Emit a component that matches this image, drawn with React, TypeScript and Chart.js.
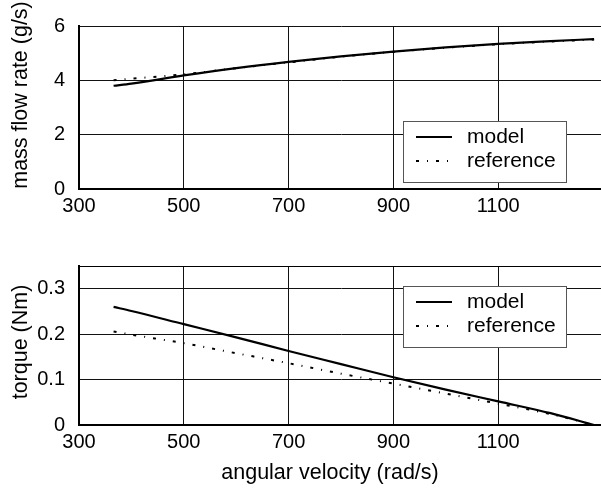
import React, { useEffect, useRef } from "react";
import { Chart, registerables } from "chart.js";
Chart.register(...registerables);

const speed = [366, 400, 500, 600, 700, 800, 900, 1000, 1100, 1200, 1283];
const massModel = [3.8, 3.88, 4.18, 4.45, 4.68, 4.88, 5.06, 5.21, 5.34, 5.44, 5.52];
const massReference = [4.0, 4.06, 4.22, 4.45, 4.66, 4.87, 5.05, 5.2, 5.33, 5.43, 5.5];
const torqueModel = [0.26, 0.251, 0.222, 0.193, 0.163, 0.134, 0.105, 0.078, 0.052, 0.026, 0.0];
const torqueReference = [0.206, 0.199, 0.18, 0.158, 0.136, 0.113, 0.091, 0.069, 0.047, 0.024, 0.0];
const xTicks = [300, 500, 700, 900, 1100];
const massTicks = [0, 2, 4, 6];
const torqueTicks = [0, 0.1, 0.2, 0.3];
const seriesNames = ["model", "reference"];
const massTitle = "mass flow rate (g/s)";
const torqueTitle = "torque (Nm)";
const xTitle = "angular velocity (rad/s)";

const FONT = '"Liberation Sans", Arial, Helvetica, sans-serif';

const boxLegend = {
  id: "boxLegend",
  afterDatasetsDraw(chart: any, _a: any, opts: any) {
    const { ctx, chartArea } = chart;
    const x = Math.round(chartArea.left + opts.dx);
    const y = Math.round(chartArea.top + opts.dy);
    const w = 163;
    const h = 61;
    ctx.save();
    ctx.fillStyle = "#fff";
    ctx.fillRect(x, y, w, h);
    ctx.strokeStyle = "#555";
    ctx.lineWidth = 1;
    ctx.setLineDash([]);
    ctx.strokeRect(x + 0.5, y + 0.5, w, h);
    chart.data.datasets.forEach((ds: any, i: number) => {
      const cy = y + 16 + i * 24;
      ctx.beginPath();
      ctx.setLineDash(ds.borderDash || []);
      ctx.lineWidth = ds.borderWidth;
      ctx.strokeStyle = ds.borderColor;
      ctx.moveTo(x + 13, cy);
      ctx.lineTo(x + 49, cy);
      ctx.stroke();
      ctx.setLineDash([]);
      ctx.fillStyle = "#000";
      ctx.font = `21px ${FONT}`;
      ctx.textBaseline = "middle";
      ctx.textAlign = "left";
      ctx.fillText(ds.label, x + 64, cy);
    });
    ctx.restore();
  },
};

const extras = {
  id: "extras",
  afterDraw(chart: any, _a: any, opts: any) {
    const { ctx, chartArea } = chart;
    ctx.save();
    if (opts.topBorder) {
      ctx.strokeStyle = "#000";
      ctx.lineWidth = 1;
      ctx.beginPath();
      ctx.moveTo(chartArea.left, Math.round(chartArea.top) + 0.5);
      ctx.lineTo(chartArea.right, Math.round(chartArea.top) + 0.5);
      ctx.stroke();
    }
    ctx.fillStyle = "#000";
    ctx.font = `21.5px ${FONT}`;
    ctx.textAlign = "center";
    ctx.textBaseline = "middle";
    if (opts.xTitle) {
      ctx.fillText(opts.xTitle, opts.xTitleX, opts.xTitleY);
    }
    if (opts.yTitle) {
      ctx.save();
      ctx.translate(21, opts.yTitleY);
      ctx.rotate(-Math.PI / 2);
      ctx.fillText(opts.yTitle, 0, 0);
      ctx.restore();
    }
    ctx.restore();
  },
};

function makeConfig(p: {
  yTitle: string;
  yTitleY: number;
  yMax: number;
  yTicks: number[];
  model: number[];
  reference: number[];
  padTop: number;
  xHeight: number;
  legendDy: number;
  topBorder: boolean;
  xTitle?: string;
}): any {
  return {
    type: "line",
    data: {
      datasets: [
        {
          label: seriesNames[0],
          data: speed.map((x, i) => ({ x, y: p.model[i] })),
          borderColor: "#000",
          borderWidth: 2.2,
          pointRadius: 0,
          cubicInterpolationMode: "monotone",
        },
        {
          label: seriesNames[1],
          data: speed.map((x, i) => ({ x, y: p.reference[i] })),
          borderColor: "#000",
          borderWidth: 2,
          borderDash: [3, 8, 1, 8],
          pointRadius: 0,
          cubicInterpolationMode: "monotone",
        },
      ],
    },
    options: {
      animation: false,
      responsive: false,
      devicePixelRatio: 1,
      layout: { padding: { top: p.padTop, left: 0, right: 1, bottom: 0 } },
      plugins: {
        legend: { display: false },
        tooltip: { enabled: false },
        boxLegend: { dx: 324, dy: p.legendDy },
        extras: {
          topBorder: p.topBorder,
          xTitle: p.xTitle,
          xTitleX: 330,
          xTitleY: 233,
          yTitle: p.yTitle,
          yTitleY: p.yTitleY,
        },
      },
      scales: {
        x: {
          type: "linear",
          min: 300,
          max: 1300,
          afterBuildTicks: (s: any) => {
            s.ticks = xTicks.map((v) => ({ value: v }));
          },
          afterFit: (s: any) => {
            s.height = p.xHeight;
          },
          ticks: {
            color: "#000",
            font: { family: FONT, size: 20 },
            padding: 5,
            maxRotation: 0,
            autoSkip: false,
            callback: (v: any) => String(v),
          },
          grid: { color: "#111", lineWidth: 1, drawTicks: false },
          border: { display: true, color: "#000", width: 2 },
        },
        y: {
          type: "linear",
          min: 0,
          max: p.yMax,
          afterBuildTicks: (s: any) => {
            s.ticks = p.yTicks.map((v) => ({ value: v }));
          },
          afterFit: (s: any) => {
            s.width = 79;
          },
          ticks: {
            color: "#000",
            font: { family: FONT, size: 20 },
            padding: 14,
            autoSkip: false,
            callback: (v: any) => String(Math.round(v * 100) / 100),
          },
          grid: { color: "#111", lineWidth: 1, drawTicks: false },
          border: { display: true, color: "#000", width: 2 },
          title: { display: false },
        },
      },
    },
    plugins: [boxLegend, extras],
  };
}

export default function App() {
  const topRef = useRef<HTMLCanvasElement | null>(null);
  const botRef = useRef<HTMLCanvasElement | null>(null);

  useEffect(() => {
    const top = new Chart(
      topRef.current as HTMLCanvasElement,
      makeConfig({
        yTitle: massTitle,
        yTitleY: 95,
        yMax: 6,
        yTicks: massTicks,
        model: massModel,
        reference: massReference,
        padTop: 17,
        xHeight: 51,
        legendDy: 95,
        topBorder: false,
      })
    );
    const bot = new Chart(
      botRef.current as HTMLCanvasElement,
      makeConfig({
        yTitle: torqueTitle,
        yTitleY: 102,
        yMax: 0.35,
        yTicks: torqueTicks,
        model: torqueModel,
        reference: torqueReference,
        padTop: 13,
        xHeight: 68,
        legendDy: 20,
        topBorder: true,
        xTitle: xTitle,
      })
    );
    return () => {
      top.destroy();
      bot.destroy();
    };
  }, []);

  return (
    <div
      style={{
        position: "fixed",
        left: 0,
        top: 0,
        width: 601,
        height: 493,
        overflow: "hidden",
        background: "#fff",
      }}
    >
      <canvas
        ref={topRef}
        width={604}
        height={240}
        style={{ position: "absolute", left: 0, top: 0, width: 604, height: 240 }}
      />
      <canvas
        ref={botRef}
        width={604}
        height={253}
        style={{ position: "absolute", left: 0, top: 240, width: 604, height: 253 }}
      />
    </div>
  );
}
